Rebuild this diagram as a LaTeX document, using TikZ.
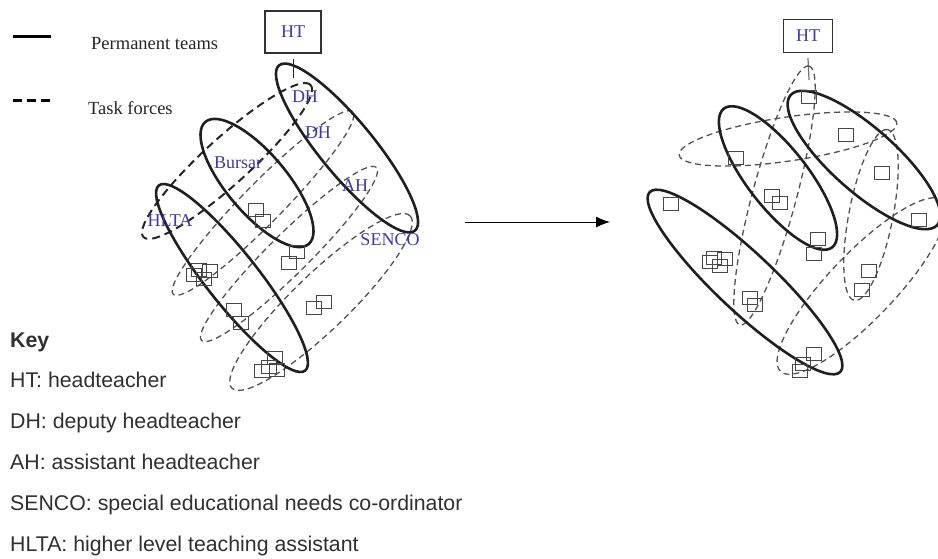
\documentclass[tikz,border=0pt]{standalone}
\usepackage{fontspec}
\setmainfont{Liberation Serif}
\setsansfont{Liberation Sans}
\usetikzlibrary{arrows.meta}

\definecolor{labelblue}{RGB}{62,58,160}
\definecolor{keygray}{RGB}{48,48,48}

\tikzset{
  team/.style={line width=2.6pt, draw=black!88},
  taskforce/.style={line width=1.3pt, draw=black!68, dash pattern=on 6pt off 4pt},
  firstforce/.style={line width=2pt, draw=black!85, dash pattern=on 8pt off 5pt},
  member/.style={draw=black!72, line width=1.1pt, minimum width=14.5pt, minimum height=12.5pt, inner sep=0pt},
  staff/.style={text=labelblue, font=\fontsize{18}{20}\selectfont, inner sep=0pt},
  headbox/.style={draw=black!80, line width=1.1pt, text=labelblue, font=\fontsize{18}{20}\selectfont, inner sep=0pt},
  legendtext/.style={anchor=west, inner sep=0pt, text=black!85, font=\fontsize{18.5}{20}\selectfont},
  keyline/.style={anchor=base west, inner sep=0pt, text=keygray, font=\sffamily\fontsize{21.3}{24}\selectfont},
}

\begin{document}
\begin{tikzpicture}[x=1pt,y=-1pt]
\useasboundingbox (0,0) rectangle (938,558);

% legend
\draw[line width=3pt] (13,36)--(51,36);
\draw[line width=3pt, dash pattern=on 9pt off 5pt] (13,100)--(51,100);
\node[legendtext] (permanent) at (91,44) {Permanent teams};
\node[legendtext] (taskforces) at (88,108) {Task forces};

% ---- before ----
\node[headbox, minimum width=56pt, minimum height=42pt] (htL) at (293,32) {HT};
\coordinate (htLtail) at (293,78);
\draw[black!85, line width=1pt] ([yshift=-5pt]htL.south)--(htLtail);

% task forces
\draw[firstforce, rotate around={42.3:(227,161)}] (227,161) ellipse [x radius=113pt, y radius=23pt];
\draw[taskforce, rotate around={45.5:(263,203)}] (263,203) ellipse [x radius=128pt, y radius=20pt];
\draw[taskforce, rotate around={44.7:(289,254)}] (289,254) ellipse [x radius=123pt, y radius=20pt];
\draw[taskforce, rotate around={44:(321,302)}] (321,302) ellipse [x radius=124pt, y radius=28pt];

% permanent teams
\draw[team, rotate around={-50.6:(347,148)}] (347,148) ellipse [x radius=107pt, y radius=27pt];
\draw[team, rotate around={-49.8:(257,183)}] (257,183) ellipse [x radius=80pt, y radius=30pt];
\draw[team, rotate around={-51.7:(232,278)}] (232,278) ellipse [x radius=118pt, y radius=26pt];

\node[staff] (dh1) at (305,97) {DH};
\node[staff] (dh2) at (318,133) {DH};
\node[staff] (ah) at (355,186) {AH};
\node[staff] (senco) at (390,240) {SENCO};
\node[staff] (bursar) at (238,163) {Bursar};
\node[staff] (hlta) at (170,221) {HLTA};

\foreach \x/\y [count=\i] in {256/210,263/221,297/252,289/263,199/270,210/271,194/275,204/279,
    234/310,241/323,324/302,314/308,275/358,262/371,277/370,269/367}
  \node[member] (mL\i) at (\x,\y) {};

% change
\coordinate (arrowfrom) at (465,222);
\coordinate (arrowto) at (610,222);
\draw[-{Latex[length=14pt,width=11pt]}, line width=1pt] (arrowfrom)--(arrowto);

% ---- after ----
\node[headbox, minimum width=49pt, minimum height=33pt] (htR) at (808,36) {HT};
\coordinate (htRtail) at (809,80);
\draw[black!55, line width=1.2pt] ([yshift=-5pt]htR.south)--(htRtail);

\draw[taskforce, rotate around={75:(774.5,195.5)}] (774.5,195.5) ellipse [x radius=134pt, y radius=22pt];
\draw[taskforce, rotate around={8.4:(788,139)}] (788,139) ellipse [x radius=110pt, y radius=22pt];
\draw[taskforce, rotate around={79:(871,215)}] (871,215) ellipse [x radius=87pt, y radius=22pt];
\draw[taskforce, rotate around={46.3:(862,286)}] (862,286) ellipse [x radius=118pt, y radius=33pt];

\draw[team, rotate around={-41.5:(864,160)}] (864,160) ellipse [x radius=98pt, y radius=32pt];
\draw[team, rotate around={-52:(778,178)}] (778,178) ellipse [x radius=88pt, y radius=30pt];
\draw[team, rotate around={-43.3:(745,282)}] (745,282) ellipse [x radius=131pt, y radius=29pt];

\foreach \x/\y [count=\i] in {809/97,846/135,882/173,919/220,736/158,671/204,772/196,780/203,
    818/239,814/254,869/271,862/290,714/258,725/259,710/262,720/266,750/298,755/305,
    814/354,803/364,800/371}
  \node[member] (mR\i) at (\x,\y) {};

% key
\node[keyline, font=\sffamily\bfseries\fontsize{21.3}{24}\selectfont] (keyhead) at (10,347) {Key};
\node[keyline] (keyHT) at (10,387) {HT: headteacher};
\node[keyline] (keyDH) at (10,428) {DH: deputy headteacher};
\node[keyline] (keyAH) at (10,469) {AH: assistant headteacher};
\node[keyline] (keySENCO) at (10,510) {SENCO: special educational needs co-ordinator};
\node[keyline] (keyHLTA) at (10,551) {HLTA: higher level teaching assistant};
\end{tikzpicture}
\end{document}
